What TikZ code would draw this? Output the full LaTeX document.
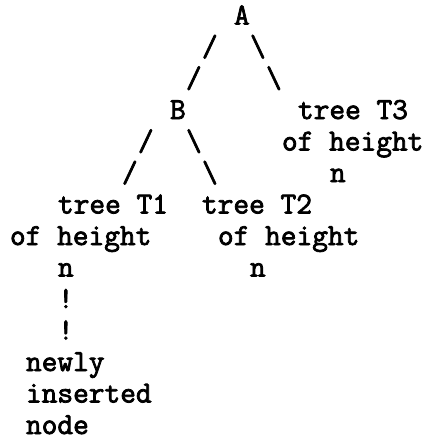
\documentclass[tikz,border=0pt]{standalone}
\usepackage{fontspec}
\newfontfamily\typewr[FakeBold=2.5]{Latin Modern Mono}
\begin{document}
\begin{tikzpicture}[x=1pt,y=-1pt,
  txt/.style={anchor=base west, inner sep=0pt, outer sep=0pt,
    font=\typewr\fontsize{30.5pt}{31.5pt}\selectfont}]
\useasboundingbox (0,0) rectangle (429,442);
% grid: column c -> x = 10 + 16c ; row r -> baseline y = 24.5 + 31.5r
\node[txt] (A)    at ({10+16*14},{24.5+31.5*0}) {A};
\node[txt] (s1l)  at ({10+16*12},{24.5+31.5*1}) {/};
\node[txt] (s1r)  at ({10+16*15},{24.5+31.5*1}) {\textbackslash};
\node[txt] (s2l)  at ({10+16*11},{24.5+31.5*2}) {/};
\node[txt] (s2r)  at ({10+16*16},{24.5+31.5*2}) {\textbackslash};
\node[txt] (B)    at ({10+16*10},{24.5+31.5*3}) {B};
\node[txt] (T3a)  at ({10+16*18},{24.5+31.5*3}) {tree T3};
\node[txt] (s4l)  at ({10+16*8},{24.5+31.5*4}) {/};
\node[txt] (s4r)  at ({10+16*11},{24.5+31.5*4}) {\textbackslash};
\node[txt] (T3b)  at ({10+16*17},{24.5+31.5*4}) {of height};
\node[txt] (s5l)  at ({10+16*7},{24.5+31.5*5}) {/};
\node[txt] (s5r)  at ({10+16*12},{24.5+31.5*5}) {\textbackslash};
\node[txt] (T3c)  at ({10+16*20},{24.5+31.5*5}) {n};
\node[txt] (T1a)  at ({10+16*3},{24.5+31.5*6}) {tree T1};
\node[txt] (T2a)  at ({10+16*12},{24.5+31.5*6}) {tree T2};
\node[txt] (T1b)  at ({10+16*0},{24.5+31.5*7}) {of height};
\node[txt] (T2b)  at ({10+16*13},{24.5+31.5*7}) {of height};
\node[txt] (T1c)  at ({10+16*3},{24.5+31.5*8}) {n};
\node[txt] (T2c)  at ({10+16*15},{24.5+31.5*8}) {n};
\node[txt] (e1)   at ({10+16*3},{24.5+31.5*9}) {!};
\node[txt] (e2)   at ({10+16*3},{24.5+31.5*10}) {!};
\node[txt] (N1)   at ({10+16*1},{24.5+31.5*11}) {newly};
\node[txt] (N2)   at ({10+16*1},{24.5+31.5*12}) {inserted};
\node[txt] (N3)   at ({10+16*1},{24.5+31.5*13}) {node};
\end{tikzpicture}
\end{document}
